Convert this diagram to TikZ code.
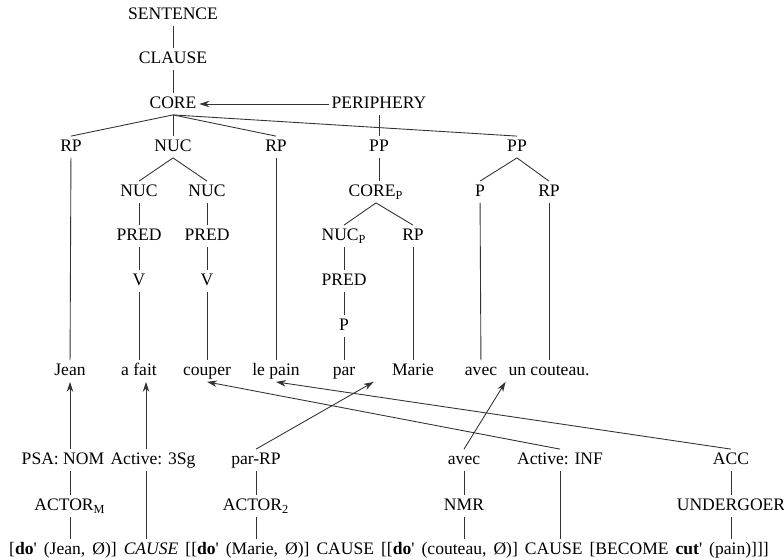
\documentclass[tikz,border=0pt]{standalone}
\usepackage{fontspec}
\setmainfont{Liberation Serif}
\usetikzlibrary{arrows.meta,calc}
\newcommand{\dop}{\textbf{do}\textquotesingle}
\newcommand{\cutp}{\textbf{cut}\textquotesingle}
\tikzset{
  branch/.style  = {black!80,line width=0.5pt},
  linkarr/.style = {-{Stealth[length=2mm,width=1.3mm]},branch},
  lbl/.style     = {inner sep=1.5pt,text height=7pt,text depth=2pt,
                    font=\fontsize{10}{12}\selectfont}
}

\begin{document}
\begin{tikzpicture}[x=0.02cm,y=-0.02cm,every node/.style={lbl}]
  \useasboundingbox (0,0) rectangle (784,559);
  % layered structure
  \node (sent)   at (173,15)  {SENTENCE};
  \node (clause) at (173,59)  {CLAUSE};
  \node (core)   at (173,104) {CORE};
  \node (peri)   at (379,104) {PERIPHERY};
  \node (rpA)    at (71,147)  {RP};
  \node (nuc)    at (173,147) {NUC};
  \node (rpB)    at (276,147) {RP};
  \node (ppA)    at (379,147) {PP};
  \node (ppB)    at (517,147) {PP};
  \node (nucA)   at (139,192) {NUC};
  \node (nucB)   at (207,192) {NUC};
  \node (corep)  at (376,192) {CORE\textsubscript{P}};
  \node (pB)     at (480,192) {P};
  \node (rpD)    at (549,192) {RP};
  \node (predA)  at (139,236) {PRED};
  \node (predB)  at (207,236) {PRED};
  \node (nucp)   at (344,236) {NUC\textsubscript{P}};
  \node (rpC)    at (413,236) {RP};
  \node (vA)     at (139,281) {V};
  \node (vB)     at (207,281) {V};
  \node (predC)  at (344,281) {PRED};
  \node (pC)     at (344,326) {P};
  % the sentence
  \node (jean)   at (70,371)  {Jean};
  \node (afait)  at (139,371) {a fait};
  \node (couper) at (207,371) {couper};
  \node (lepain) at (276,371) {le pain};
  \node (par)    at (344,371) {par};
  \node (marie)  at (413,371) {Marie};
  \node (avec)   at (481,371) {avec};
  \node (uncout) at (549,371) {un couteau.};
  % linking and semantics
  \node (psa)    at (63,460)  {PSA: NOM};
  \node (act3)   at (153,460) {Active: 3Sg};
  \node (parrp)  at (256,460) {par-RP};
  \node (avecB)  at (464,460) {avec};
  \node (actinf) at (560,460) {Active: INF};
  \node (acc)    at (731,460) {ACC};
  \node (actm)   at (70,506)  {ACTOR\textsubscript{M}};
  \node (act2)   at (256,506) {ACTOR\textsubscript{2}};
  \node (nmr)    at (464,506) {NMR};
  \node (undg)   at (731,506) {UNDERGOER};
  \node (formula) at (389,550) {\spaceskip=4pt plus 1pt\relax[\dop{} (Jean, Ø)] \textit{CAUSE} [[\dop{} (Marie, Ø)] CAUSE [[\dop{} (couteau, Ø)] CAUSE [BECOME \cutp{} (pain)]]]};

  \draw[branch] (sent) -- (clause) -- (core);
  \draw[linkarr] (peri) -- (core);
  \foreach \c in {rpA,nuc,rpB,ppB}
    \draw[branch] (core.south) -- (\c.north);
  \draw[branch] (peri) -- (ppA);
  \draw[branch] (nuc.south) -- (nucA.north);
  \draw[branch] (nuc.south) -- (nucB.north);
  \draw[branch] (nucA) -- (predA) -- (vA) -- (afait);
  \draw[branch] (nucB) -- (predB) -- (vB) -- (couper);
  \draw[branch] (rpA) -- (jean);
  \draw[branch] (rpB) -- (lepain);
  \draw[branch] (ppA) -- (ppA |- corep.north);
  \draw[branch] (corep.south) -- (nucp.north);
  \draw[branch] (corep.south) -- (rpC.north);
  \draw[branch] (nucp) -- (predC) -- (pC) -- (par);
  \draw[branch] (rpC) -- (marie);
  \draw[branch] (ppB.south) -- (pB.north);
  \draw[branch] (ppB.south) -- (rpD.north);
  \draw[branch] (pB) -- (avec);
  \draw[branch] (rpD) -- (uncout);

  \draw[linkarr] (jean.south |- psa.north) -- (jean.south);
  \draw[branch] (actm) -- (actm |- psa.south);
  \draw[branch] (actm) -- (actm |- formula.north);
  \draw[linkarr] ([xshift=-0.14cm]act3.north) -- ([xshift=-0.14cm]act3.north |- afait.south);
  \draw[branch] ([xshift=-0.14cm]act3.south) -- ([xshift=-0.14cm]act3.south |- formula.north);
  \draw[linkarr] (parrp.north) -- ($(par.south east)!0.5!(marie.south west)$);
  \draw[branch] (parrp) -- (act2) -- (act2 |- formula.north);
  \draw[linkarr] (avecB.north) -- (uncout.south west);
  \draw[branch] (avecB) -- (nmr) -- (nmr |- formula.north);
  \draw[linkarr] (actinf.north) -- (couper.south);
  \draw[branch] (actinf) -- (actinf |- formula.north);
  \draw[linkarr] (acc.north) -- (lepain.south);
  \draw[branch] (acc) -- (undg) -- (undg |- formula.north);
\end{tikzpicture}
\end{document}
